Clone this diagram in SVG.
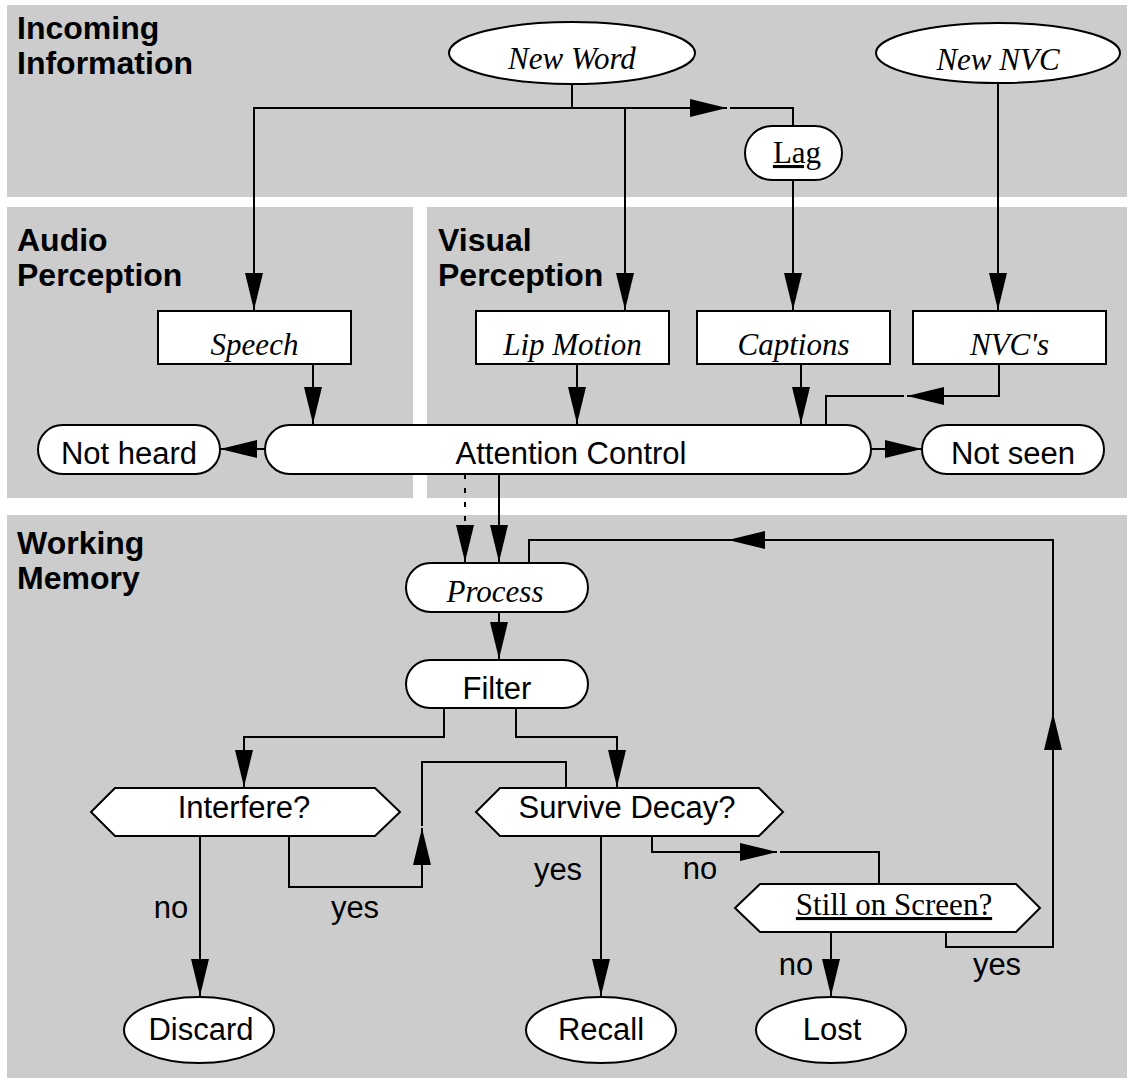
<svg xmlns="http://www.w3.org/2000/svg" width="1131" height="1082" viewBox="0 0 1131 1082">
<defs>
<marker id="ah" markerWidth="37" markerHeight="18" refX="37" refY="9" orient="auto" markerUnits="userSpaceOnUse"><path d="M0,0 L37,9 L0,18 z" fill="#000"/></marker>
</defs>
<style>
.panel{fill:#cccccc}
.node{fill:#fff;stroke:#000;stroke-width:2}
.lbl{font-family:"Liberation Sans",Arial,sans-serif;font-weight:bold;font-size:32px;fill:#000}
.sans{font-family:"Liberation Sans",Arial,sans-serif;font-size:31px;text-anchor:middle;fill:#000}
.serif{font-family:"Liberation Serif","Times New Roman",serif;font-size:31px;text-anchor:middle;fill:#000}
.it{font-style:italic}
.ul{text-decoration:underline}
.edge{fill:none;stroke:#000;stroke-width:2}
.arr{marker-end:url(#ah)}
.dot{stroke-dasharray:5 9}
</style>
<rect width="1131" height="1082" fill="#fff"/>
<g id="panels">
<rect class="panel" x="7" y="5" width="1120" height="192"/>
<rect class="panel" x="7" y="207" width="406" height="291"/>
<rect class="panel" x="427" y="207" width="700" height="291"/>
<rect class="panel" x="7" y="515" width="1120" height="563"/>
<text class="lbl" x="17" y="39">Incoming</text>
<text class="lbl" x="17" y="74">Information</text>
<text class="lbl" x="17" y="251">Audio</text>
<text class="lbl" x="17" y="286">Perception</text>
<text class="lbl" x="438" y="251">Visual</text>
<text class="lbl" x="438" y="286">Perception</text>
<text class="lbl" x="17" y="554">Working</text>
<text class="lbl" x="17" y="589">Memory</text>
</g>
<g id="connectors">
<path class="edge" d="M572,84 V108"/>
<path class="edge arr" d="M572,108 H254 V310"/>
<path class="edge arr" d="M572,108 H727"/>
<path class="edge" d="M730,108 H793 V126"/>
<path class="edge arr" d="M625,108 V310"/>
<path class="edge arr" d="M793,180 V310"/>
<path class="edge arr" d="M998,83 V310"/>
<path class="edge arr" d="M313,364 V424"/>
<path class="edge arr" d="M577,364 V424"/>
<path class="edge arr" d="M801,364 V424"/>
<path class="edge arr" d="M999,364 V396 H907"/>
<path class="edge" d="M904,396 H826 V425"/>
<path class="edge arr" d="M265,449 H220"/>
<path class="edge arr" d="M871,449 H922"/>
<path class="edge dot arr" d="M465,474 V562"/>
<path class="edge arr" d="M499,474 V562"/>
<path class="edge arr" d="M499,612 V659"/>
<path class="edge arr" d="M946,932 V947 H1053 V713"/>
<path class="edge arr" d="M1053,713 V540 H728"/>
<path class="edge" d="M728,540 H529 V563"/>
<path class="edge arr" d="M444,708 V737 H244 V787"/>
<path class="edge arr" d="M516,708 V737 H617 V787"/>
<path class="edge arr" d="M200,836 V996"/>
<path class="edge arr" d="M289,836 V887 H422 V828"/>
<path class="edge" d="M422,826 V762 H566 V788"/>
<path class="edge arr" d="M601,836 V996"/>
<path class="edge arr" d="M652,836 V852 H777"/>
<path class="edge" d="M780,852 H879 V884"/>
<path class="edge arr" d="M831,932 V996"/>
<text class="sans" x="171" y="918">no</text>
<text class="sans" x="355" y="918">yes</text>
<text class="sans" x="558" y="880">yes</text>
<text class="sans" x="700" y="879">no</text>
<text class="sans" x="796" y="975">no</text>
<text class="sans" x="997" y="975">yes</text>
</g>
<g id="new-word"><ellipse class="node" cx="572" cy="53" rx="123" ry="31"/><text class="serif it" x="572" y="69">New Word</text></g>
<g id="new-nvc"><ellipse class="node" cx="998" cy="53" rx="122" ry="30"/><text class="serif it" x="998" y="70">New NVC</text></g>
<g id="lag"><rect class="node" x="745" y="126" width="97" height="54" rx="27"/><text class="serif ul" x="797" y="163">Lag</text></g>
<g id="speech"><rect class="node" x="158" y="311" width="193" height="53"/><text class="serif it" x="254.5" y="355">Speech</text></g>
<g id="lip-motion"><rect class="node" x="476" y="311" width="193" height="53"/><text class="serif it" x="572.5" y="355">Lip Motion</text></g>
<g id="captions"><rect class="node" x="697" y="311" width="193" height="53"/><text class="serif it" x="793.5" y="355">Captions</text></g>
<g id="nvcs"><rect class="node" x="913" y="311" width="193" height="53"/><text class="serif it" x="1009.5" y="355">NVC's</text></g>
<g id="not-heard"><rect class="node" x="38" y="425" width="182" height="49" rx="24.5"/><text class="sans" x="129" y="464">Not heard</text></g>
<g id="attention-control"><rect class="node" x="265" y="425" width="606" height="49" rx="24.5"/><text class="sans" x="571" y="464">Attention Control</text></g>
<g id="not-seen"><rect class="node" x="922" y="425" width="182" height="49" rx="24.5"/><text class="sans" x="1013" y="464">Not seen</text></g>
<g id="process"><rect class="node" x="406" y="563" width="182" height="49" rx="24.5"/><text class="serif it" x="495" y="602">Process</text></g>
<g id="filter"><rect class="node" x="406" y="660" width="182" height="48" rx="24"/><text class="sans" x="497" y="699">Filter</text></g>
<g id="interfere"><polygon class="node" points="91,812 115,788 375,788 400,812 375,836 115,836"/><text class="sans" x="244" y="818">Interfere?</text></g>
<g id="survive-decay"><polygon class="node" points="476,812 500,788 759,788 783,812 759,836 500,836"/><text class="sans" x="627" y="818">Survive Decay?</text></g>
<g id="still-on-screen"><polygon class="node" points="735,908 760,884 1016,884 1040,908 1016,932 760,932"/><text class="serif ul" x="894" y="915">Still on Screen?</text></g>
<g id="discard"><ellipse class="node" cx="199" cy="1030" rx="75" ry="33"/><text class="sans" x="201" y="1040">Discard</text></g>
<g id="recall"><ellipse class="node" cx="601" cy="1030" rx="75" ry="33"/><text class="sans" x="601" y="1040">Recall</text></g>
<g id="lost"><ellipse class="node" cx="831" cy="1030" rx="75" ry="33"/><text class="sans" x="832" y="1040">Lost</text></g>
</svg>
